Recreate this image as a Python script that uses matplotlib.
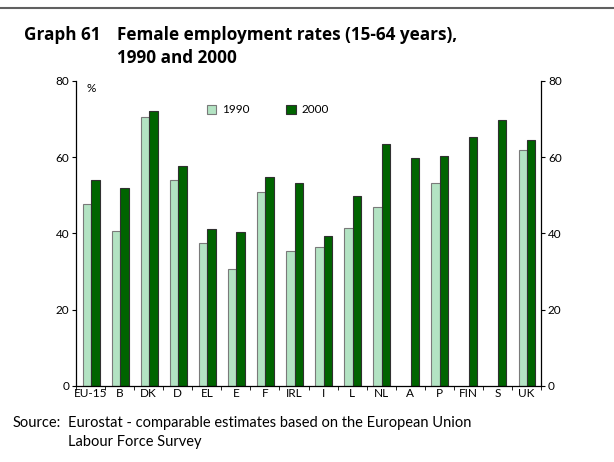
import numpy as np
import matplotlib.pyplot as plt
from matplotlib.lines import Line2D

plt.rcParams['font.family'] = ['Lato', 'DejaVu Sans']

# Data
countries = ['EU-15', 'B', 'DK', 'D', 'EL', 'E', 'F', 'IRL', 'I', 'L',
             'NL', 'A', 'P', 'FIN', 'S', 'UK']
rate_1990 = [47.7, 40.7, 70.6, 53.9, 37.4, 30.6, 50.9, 35.4, 36.3, 41.3,
             46.8, np.nan, 53.3, np.nan, np.nan, 61.8]
rate_2000 = [53.9, 51.9, 72.1, 57.8, 41.2, 40.3, 54.8, 53.1, 39.3, 49.9,
             63.5, 59.7, 60.3, 65.2, 69.7, 64.5]

light = '#b3e3c3'
dark = '#006400'

fig = plt.figure(figsize=(6.14, 4.62), dpi=100)
ax = fig.add_axes([0.1238, 0.1652, 0.7573, 0.6595])

x = np.arange(len(countries))
w = 0.29
ax.bar(x - w / 2 + 0.02, rate_1990, w, color=light, edgecolor='#7a7a7a',
       linewidth=0.8, label='1990')
ax.bar(x + w / 2 + 0.02, rate_2000, w, color=dark, edgecolor='#303030',
       linewidth=0.8, label='2000')

ax.set_xlim(-0.5, len(countries) - 0.5)
ax.set_ylim(0, 80)
ax.set_yticks([0, 20, 40, 60, 80])
ax.set_xticks(x)
ax.set_xticklabels(countries)
ax.set_xticks(np.arange(-0.5, len(countries), 1), minor=True)
ax.tick_params(axis='x', which='major', length=0, labelsize=8.5, pad=2)
ax.tick_params(axis='x', which='minor', length=3, width=0.6, direction='out')
ax.tick_params(axis='y', labelsize=8.5, length=3, width=0.8, left=True,
               right=True, labelleft=True, labelright=True, pad=2)

ax.spines['top'].set_visible(False)
for s in ['left', 'right', 'bottom']:
    ax.spines[s].set_linewidth(0.9)

ax.text(0.022, 0.975, '%', transform=ax.transAxes, fontsize=8.5,
        va='center', ha='left')

ax.legend(ncol=2, frameon=False, loc='center left',
          bbox_to_anchor=(0.271, 0.905), fontsize=8.5, handlelength=0.8,
          handleheight=0.8, handletextpad=0.5, columnspacing=3.1,
          borderaxespad=0)

# top rule
fig.add_artist(Line2D([0, 1], [1 - 7.5 / 462, 1 - 7.5 / 462],
                      color='#606060', linewidth=1.5))

title_font = dict(fontsize=12.3, weight='bold', family='Open Sans',
                  va='baseline', ha='left')
fig.text(24 / 614, 1 - 40 / 462, 'Graph 61', **title_font)
fig.text(117 / 614, 1 - 40 / 462, 'Female employment rates (15-64 years),',
         **title_font)
fig.text(117 / 614, 1 - 63 / 462, '1990 and 2000', **title_font)

fig.text(13 / 614, 1 - 423 / 462, 'Source:', fontsize=10.5, va='center',
         ha='left')
fig.text(68 / 614, 1 - 423 / 462,
         'Eurostat - comparable estimates based on the European Union',
         fontsize=10.5, va='center', ha='left')
fig.text(68 / 614, 1 - 442 / 462, 'Labour Force Survey', fontsize=10.5,
         va='center', ha='left')

fig.savefig('out.png', dpi=100)
